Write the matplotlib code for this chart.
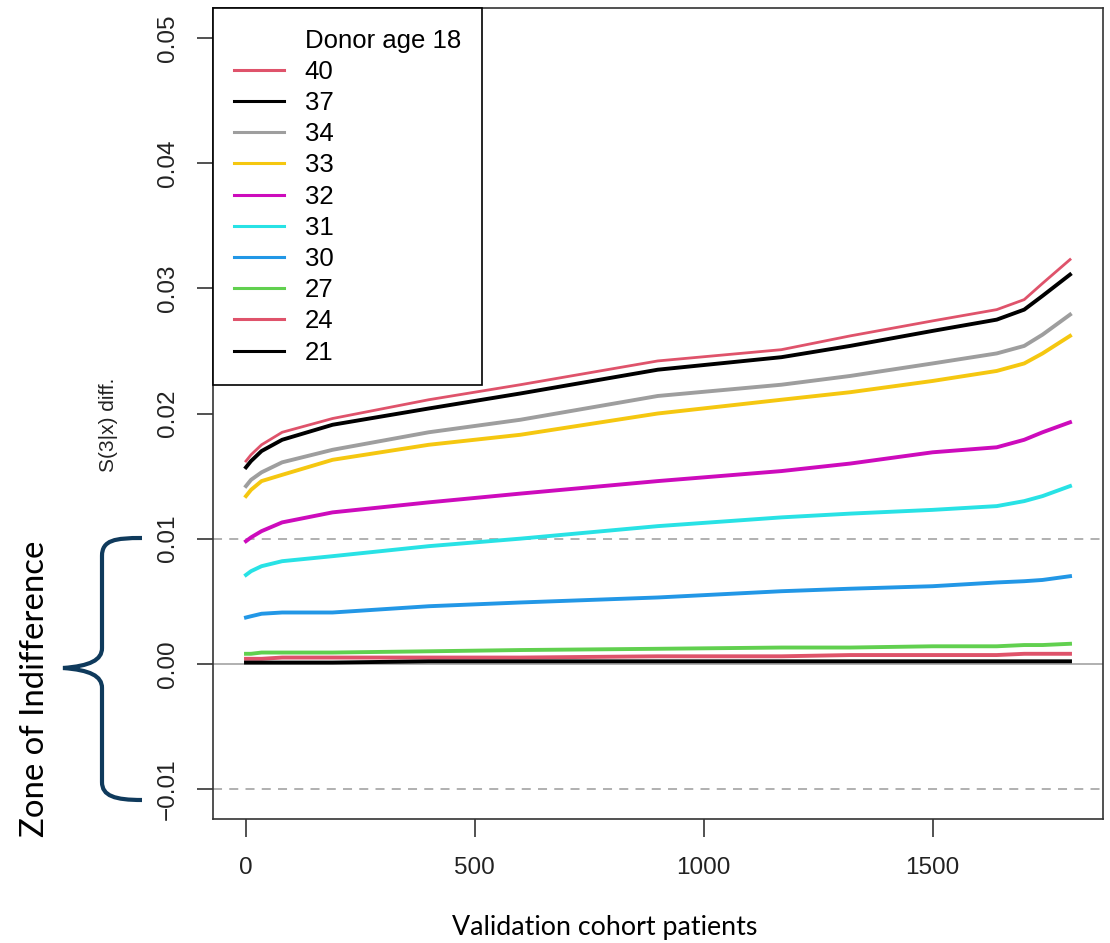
import matplotlib.pyplot as plt
from matplotlib.lines import Line2D
from matplotlib.path import Path
from matplotlib.patches import PathPatch

patients = [1, 12, 35, 80, 190, 400, 600, 900, 1170, 1320, 1500, 1640, 1700, 1740, 1800]

ages = ['40', '37', '34', '33', '32', '31', '30', '27', '24', '21']
colors = ['#DF536B', 'black', '#9E9E9E', '#F5C710', '#CD0BBC',
          '#28E2E5', '#2297E6', '#61D04F', '#DF536B', 'black']

diff_40 = [0.0162, 0.0167, 0.0175, 0.0185, 0.0196, 0.0211, 0.0223, 0.0242, 0.0251, 0.0262, 0.0274, 0.0283, 0.0291, 0.0304, 0.0323]
diff_37 = [0.0157, 0.0162, 0.0170, 0.0179, 0.0191, 0.0204, 0.0216, 0.0235, 0.0245, 0.0254, 0.0266, 0.0275, 0.0283, 0.0294, 0.0311]
diff_34 = [0.0142, 0.0147, 0.0153, 0.0161, 0.0171, 0.0185, 0.0195, 0.0214, 0.0223, 0.0230, 0.0240, 0.0248, 0.0254, 0.0263, 0.0279]
diff_33 = [0.0134, 0.0139, 0.0146, 0.0151, 0.0163, 0.0175, 0.0183, 0.0200, 0.0211, 0.0217, 0.0226, 0.0234, 0.0240, 0.0248, 0.0262]
diff_32 = [0.0098, 0.0101, 0.0106, 0.0113, 0.0121, 0.0129, 0.0136, 0.0146, 0.0154, 0.0160, 0.0169, 0.0173, 0.0179, 0.0185, 0.0193]
diff_31 = [0.0071, 0.0074, 0.0078, 0.0082, 0.0086, 0.0094, 0.0100, 0.0110, 0.0117, 0.0120, 0.0123, 0.0126, 0.0130, 0.0134, 0.0142]
diff_30 = [0.0037, 0.0038, 0.0040, 0.0041, 0.0041, 0.0046, 0.0049, 0.0053, 0.0058, 0.0060, 0.0062, 0.0065, 0.0066, 0.0067, 0.0070]
diff_27 = [0.0008, 0.0008, 0.0009, 0.0009, 0.0009, 0.0010, 0.0011, 0.0012, 0.0013, 0.0013, 0.0014, 0.0014, 0.0015, 0.0015, 0.0016]
diff_24 = [0.0004, 0.0004, 0.0004, 0.0005, 0.0005, 0.0005, 0.0005, 0.0006, 0.0006, 0.0007, 0.0007, 0.0007, 0.0008, 0.0008, 0.0008]
diff_21 = [0.0001, 0.0001, 0.0001, 0.0001, 0.0001, 0.0002, 0.0002, 0.0002, 0.0002, 0.0002, 0.0002, 0.0002, 0.0002, 0.0002, 0.0002]
series = [diff_40, diff_37, diff_34, diff_33, diff_32, diff_31, diff_30, diff_27, diff_24, diff_21]

xticks = [0, 500, 1000, 1500]
yticks = [-0.01, 0.00, 0.01, 0.02, 0.03, 0.04, 0.05]

W, H = 1110, 943
fig = plt.figure(figsize=(W / 100, H / 100), dpi=100)
ax = fig.add_axes([213 / W, 1 - 819 / H, 890 / W, 811 / H])

r_font = 'Liberation Sans'
ppt_font = 'Lato'

ax.axhline(0, color='#AAAAAA', lw=1.3, zorder=1)
for yv in (0.01, -0.01):
    ax.axhline(yv, color='#AAAAAA', lw=1.3, ls=(0, (5, 4)), zorder=1)

for vals, col, age in zip(series, colors, ages):
    lw = 2.0 if age == '40' else 2.8
    ax.plot(patients, vals, color=col, lw=lw, solid_joinstyle='round', zorder=2)

ax.set_xlim(-71, 1872)
ax.set_ylim(-0.0124, 0.0524)
ax.set_xticks(xticks)
ax.set_xticklabels([str(t) for t in xticks], fontfamily=r_font, fontsize=17.5, color='#222222')
ax.set_yticks(yticks)
ax.set_yticklabels(['\u22120.01', '0.00', '0.01', '0.02', '0.03', '0.04', '0.05'],
                   fontfamily=r_font, fontsize=17.5, color='#222222',
                   rotation=90, va='center')
ax.tick_params(axis='x', length=13, width=1.2, color='#333333', pad=14)
ax.tick_params(axis='y', length=11.5, width=1.2, color='#333333', pad=13)
for sp in ax.spines.values():
    sp.set_color('#333333')
    sp.set_linewidth(1.2)

handles = [Line2D([], [], linestyle='none')]
labels = ['Donor age 18']
for col, age in zip(colors, ages):
    handles.append(Line2D([], [], color=col, lw=2.2))
    labels.append(age)
leg = ax.legend(handles, labels, loc='upper left', borderaxespad=0,
                prop={'family': r_font, 'size': 18.5}, frameon=True,
                fancybox=False, framealpha=1, edgecolor='black',
                handlelength=1.95, handletextpad=0.82, borderpad=0.8,
                labelspacing=0.28)
leg.get_frame().set_linewidth(1.2)

fig.text(108 / W, 1 - 425 / H, 'S(3|x) diff.', rotation=90, ha='center', va='center',
         fontfamily=r_font, fontsize=15, color='#222222')

fig.text(605 / W, 1 - 928 / H, 'Validation cohort patients', ha='center', va='center',
         fontfamily=ppt_font, fontsize=19.3, color='black')
fig.text(35 / W, 1 - 689 / H, 'Zone of Indifference', rotation=90, ha='center', va='center',
         fontfamily=ppt_font, fontsize=23.7, color='black')

# curly brace marking the +/-0.01 band
pts = [(142, 538), (115, 538), (102, 540), (102, 556),
       (102, 648),
       (102, 660), (90, 666), (63, 668),
       (90, 670), (102, 676), (102, 688),
       (102, 782),
       (102, 796), (115, 800), (142, 800)]
codes = [Path.MOVETO, Path.CURVE4, Path.CURVE4, Path.CURVE4,
         Path.LINETO,
         Path.CURVE4, Path.CURVE4, Path.CURVE4,
         Path.CURVE4, Path.CURVE4, Path.CURVE4,
         Path.LINETO,
         Path.CURVE4, Path.CURVE4, Path.CURVE4]
brace = Path([(x / W, 1 - y / H) for x, y in pts], codes)
fig.patches.append(PathPatch(brace, transform=fig.transFigure, fill=False,
                             edgecolor='#0F3A5C', lw=3.0, capstyle='butt'))

fig.savefig('out.png', dpi=100)
